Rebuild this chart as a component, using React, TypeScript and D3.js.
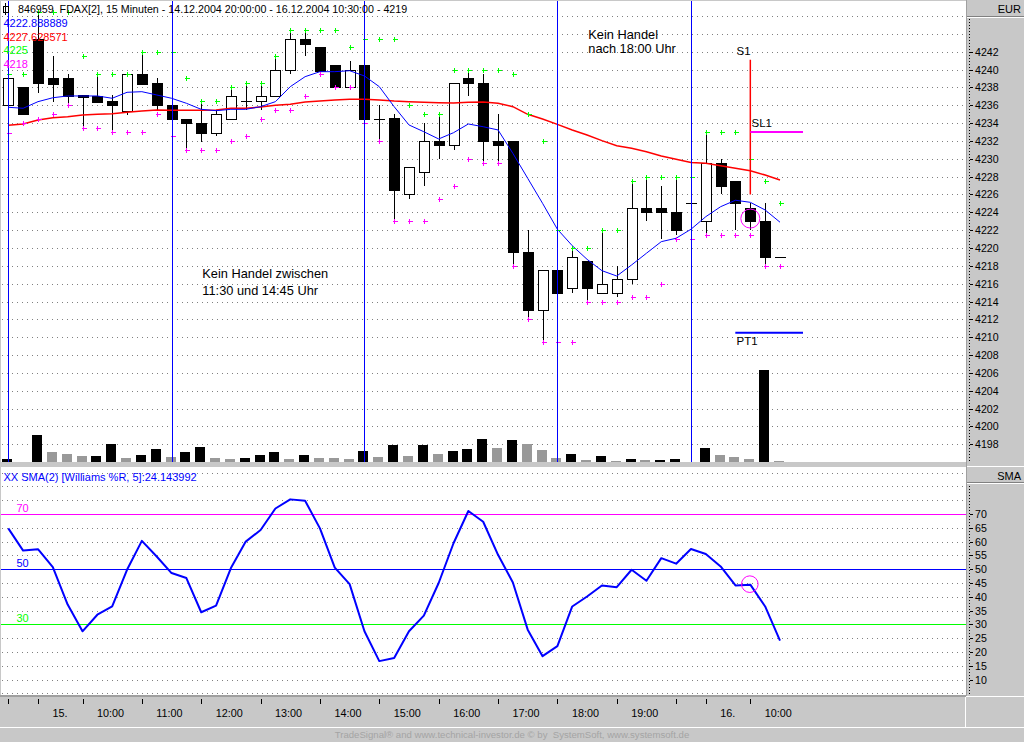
import React from "react";
import * as d3 from "d3";

// ---------- DATA ----------
const opens = [4236.0, 4238.0, 4243.4, 4239.0, 4239.0, 4237.1, 4237.0, 4236.5, 4235.4, 4239.5, 4238.5, 4236.0, 4234.5, 4234.0, 4232.9, 4234.5, 4236.5, 4236.5, 4237.0, 4240.0, 4243.4, 4242.5, 4240.5, 4238.0, 4240.5, 4234.5, 4234.6, 4226.0, 4228.5, 4232.0, 4231.5, 4239.0, 4238.5, 4232.0, 4232.0, 4219.5, 4213.0, 4217.5, 4215.5, 4218.5, 4215.0, 4215.0, 4216.5, 4224.5, 4224.5, 4224.0, 4225.0, 4223.0, 4229.5, 4227.5, 4224.5, 4223.0, 4219.0];
const highs = [4239.0, 4238.0, 4246.4, 4241.5, 4239.5, 4237.1, 4239.5, 4237.1, 4239.5, 4242.0, 4239.0, 4236.0, 4234.5, 4236.5, 4235.5, 4238.0, 4238.5, 4238.5, 4241.5, 4244.4, 4244.4, 4242.5, 4240.5, 4241.0, 4243.4, 4236.0, 4235.0, 4229.1, 4234.0, 4235.0, 4238.5, 4240.0, 4239.5, 4235.0, 4232.0, 4222.0, 4217.5, 4217.5, 4220.0, 4218.5, 4222.0, 4218.0, 4227.5, 4228.0, 4227.0, 4228.0, 4225.0, 4233.0, 4230.0, 4227.5, 4225.0, 4225.0, 4219.0];
const lows = [4234.5, 4235.0, 4237.4, 4236.4, 4236.0, 4233.5, 4236.4, 4233.1, 4234.9, 4238.4, 4235.5, 4232.5, 4231.1, 4231.9, 4232.5, 4234.5, 4235.5, 4235.5, 4237.0, 4239.5, 4241.5, 4239.8, 4238.0, 4238.0, 4234.0, 4232.0, 4223.0, 4225.5, 4227.0, 4230.0, 4231.0, 4237.0, 4229.5, 4229.5, 4218.0, 4212.0, 4209.5, 4215.0, 4215.0, 4214.0, 4215.0, 4214.5, 4216.0, 4223.0, 4221.0, 4221.5, 4225.0, 4221.5, 4226.0, 4222.0, 4222.0, 4218.0, 4219.0];
const closes = [4239.0, 4235.0, 4238.5, 4238.4, 4237.0, 4236.9, 4236.4, 4236.0, 4239.5, 4238.4, 4236.0, 4234.5, 4234.0, 4232.9, 4235.0, 4237.0, 4236.5, 4237.0, 4240.0, 4243.4, 4242.9, 4239.8, 4238.0, 4240.0, 4234.5, 4234.5, 4226.5, 4229.1, 4232.0, 4231.5, 4238.5, 4238.5, 4232.0, 4231.5, 4219.5, 4213.0, 4217.5, 4215.0, 4219.0, 4215.5, 4216.0, 4216.5, 4224.5, 4224.0, 4224.0, 4222.0, 4225.0, 4229.5, 4227.0, 4225.0, 4223.0, 4219.0, 4219.0];
const volumes = [68, 0, 668, 250, 200, 150, 155, 450, 100, 175, 325, 125, 250, 375, 100, 75, 100, 175, 250, 75, 175, 100, 98, 75, 275, 125, 425, 150, 425, 200, 275, 325, 575, 350, 542, 442, 292, 92, 192, 42, 142, 18, 68, 42, 47, 68, 0, 342, 168, 118, 68, 2292, 18];
const upperBand = [4239.5, 4239.5, 4246.4, 4246.4, 4246.4, 4241.5, 4239.5, 4239.5, 4239.5, 4242.0, 4242.0, 4242.0, 4239.0, 4236.5, 4236.5, 4238.0, 4238.5, 4238.5, 4241.5, 4244.4, 4244.4, 4244.4, 4244.4, 4242.5, 4243.4, 4243.4, 4243.4, 4236.0, 4235.0, 4235.0, 4240.0, 4240.0, 4240.0, 4240.0, 4239.5, 4235.0, 4232.0, 4222.0, 4220.0, 4220.0, 4222.0, 4222.0, 4227.5, 4228.0, 4228.0, 4228.0, 4228.0, 4233.0, 4233.0, 4233.0, 4230.0, 4227.5, 4225.0];
const lowerBand = [4232.9, 4234.0, 4234.5, 4235.0, 4236.0, 4233.5, 4233.5, 4233.0, 4233.0, 4233.0, 4235.0, 4232.5, 4231.0, 4231.0, 4231.0, 4232.0, 4232.5, 4234.5, 4235.5, 4235.5, 4237.0, 4239.5, 4238.0, 4238.0, 4234.0, 4232.0, 4223.0, 4223.0, 4223.0, 4225.5, 4227.0, 4230.0, 4229.5, 4229.5, 4218.0, 4212.0, 4209.5, 4209.5, 4209.5, 4214.0, 4214.0, 4214.0, 4214.5, 4214.5, 4216.0, 4221.0, 4221.0, 4221.5, 4221.5, 4221.5, 4221.5, 4218.0, 4218.0];
const maShort = [4235.77, 4235.66, 4236.40, 4236.84, 4237.04, 4237.04, 4237.04, 4236.78, 4237.45, 4237.52, 4237.15, 4236.78, 4236.22, 4235.54, 4235.39, 4235.54, 4235.54, 4235.84, 4236.40, 4238.08, 4239.20, 4239.76, 4239.76, 4239.87, 4239.28, 4238.08, 4235.84, 4233.79, 4233.03, 4232.22, 4232.92, 4233.90, 4233.59, 4233.23, 4230.61, 4227.81, 4225.01, 4222.10, 4220.26, 4218.73, 4217.46, 4216.86, 4218.10, 4219.41, 4220.71, 4221.09, 4222.10, 4223.51, 4224.63, 4225.35, 4225.12, 4224.26, 4222.89];
const maLong = [4233.75, 4233.90, 4234.35, 4234.60, 4234.72, 4234.91, 4234.98, 4235.05, 4235.21, 4235.35, 4235.47, 4235.43, 4235.43, 4235.43, 4235.47, 4235.66, 4235.66, 4235.80, 4235.99, 4236.11, 4236.36, 4236.47, 4236.59, 4236.67, 4236.67, 4236.59, 4236.47, 4236.40, 4236.33, 4236.28, 4236.25, 4236.33, 4236.36, 4236.22, 4235.84, 4234.98, 4234.46, 4233.86, 4233.22, 4232.66, 4232.03, 4231.47, 4231.17, 4230.79, 4230.31, 4229.94, 4229.58, 4229.49, 4229.22, 4228.93, 4228.66, 4228.18, 4227.63];
const williams = [64.8, 56.75, 57.25, 50.75, 37.2, 27.5, 33.5, 36.5, 49.8, 60.25, 54.6, 48.6, 46.8, 34.4, 36.8, 50.4, 60.0, 64.2, 72.0, 75.3, 74.8, 64.8, 50.6, 44.6, 27.5, 16.7, 17.8, 27.5, 33.2, 45.0, 59.4, 71.1, 67.2, 55.2, 45.2, 28.1, 18.5, 22.1, 36.5, 40.1, 44.1, 43.5, 49.8, 45.8, 54.0, 52.0, 57.3, 55.5, 51.0, 44.1, 44.4, 36.5, 24.14];

const sessionBreaks = [0, 11, 24, 37, 46];
const timeTicks = [0, 2, 5, 9, 13, 17, 21, 25, 29, 33, 37, 41, 45, 47, 50];
const timeLabels = ["", "15.", "10:00", "11:00", "12:00", "13:00", "14:00", "15:00", "16:00", "17:00", "18:00", "19:00", "", "16.", "10:00"];
const priceTicks = [4242, 4240, 4238, 4236, 4234, 4232, 4230, 4228, 4226, 4224, 4222, 4220, 4218, 4216, 4214, 4212, 4210, 4208, 4206, 4204, 4202, 4200, 4198];
const priceGrid = [4246, 4244, ...priceTicks];
const oscTicks = [70, 65, 60, 55, 50, 45, 40, 35, 30, 25, 20, 15, 10];
const oscGrid = [85, 80, 75, 70, 65, 60, 55, 50, 45, 40, 35, 30, 25, 20, 15, 10, 5];
const oscLevels = [70, 50, 30];
const oscLevelColors = ["#ff00ff", "#0000ff", "#00ff00"];

const title = "846959  FDAX[2], 15 Minuten - 14.12.2004 20:00:00 - 16.12.2004 10:30:00 - 4219";
const legendTexts = ["4222.888889", "4227.628571", "4225", "4218"];
const legendColors = ["#0000ff", "#ff0000", "#00ff00", "#ff00ff"];
const oscTitle = "XX SMA(2) [Williams %R, 5]:24.143992";
const footer = "TradeSignal\u00ae and www.technical-investor.de \u00a9 by  SystemSoft, www.systemsoft.de";

// signal annotations (bar index / price)
const signalBar = 50;
const s1Top = 4241.1;
const s1Bottom = 4226.0;
const stopLoss = 4233.0;
const profitTarget = 4210.5;
const circlePrice = 4223.3;

const FONT = "'Liberation Sans', Arial, sans-serif";

export default function App() {
  const x = d3.scaleLinear().domain([0, 52]).range([8.3, 780]);
  const y = d3.scaleLinear().domain([4198, 4242]).range([444.3, 51.7]);
  const yv = d3.scaleLinear().domain([0, 2500]).range([461.7, 361.7]);
  const yo = d3.scaleLinear().domain([10, 70]).range([679.6, 514]);

  const idx = d3.range(opens.length);
  const lineP = (arr: number[]) =>
    d3.line<number>().x((_, i) => x(i)).y((d) => y(d))(arr) || "";
  const oscPath = d3.line<number>().x((_, i) => x(i)).y((d) => yo(d))(williams) || "";

  const PANEL_R = 966;
  const r = (v: number) => Math.round(v);

  return (
    <svg
      width={1024}
      height={742}
      style={{ position: "absolute", left: 0, top: 0, display: "block" }}
      fontFamily={FONT}
    >
      {/* background */}
      <rect x={0} y={0} width={1024} height={742} fill="#c8c8c8" />
      <rect x={1} y={1} width={PANEL_R - 1} height={461} fill="#ffffff" />
      <rect x={1} y={467} width={PANEL_R - 1} height={228} fill="#ffffff" />

      {/* grids */}
      <g shapeRendering="crispEdges">
        {priceGrid.map((p) => (
          <line key={p} x1={2} x2={PANEL_R} y1={r(y(p)) + 0.5} y2={r(y(p)) + 0.5} stroke="#808080" strokeDasharray="1,4" />
        ))}
        {oscGrid.map((v) => (
          <line key={v} x1={2} x2={PANEL_R} y1={r(yo(v)) + 0.5} y2={r(yo(v)) + 0.5} stroke="#808080" strokeDasharray="1,4" />
        ))}
      </g>

      {/* volume */}
      <g shapeRendering="crispEdges">
        {idx.map((i) =>
          volumes[i] > 0 ? (
            <rect
              key={i}
              x={r(x(i)) - 6}
              y={yv(volumes[i])}
              width={10}
              height={yv(0) - yv(volumes[i])}
              fill={i === 0 || volumes[i] >= volumes[i - 1] ? "#000000" : "#999999"}
            />
          ) : null
        )}
      </g>

      {/* candles */}
      <g shapeRendering="crispEdges">
        {idx.map((i) => {
          const cx = r(x(i)) + 0.5;
          const o = opens[i], c = closes[i];
          const top = y(Math.max(o, c));
          const bot = y(Math.min(o, c));
          const doji = Math.abs(o - c) < 0.05;
          return (
            <g key={i}>
              <line x1={cx} x2={cx} y1={y(highs[i])} y2={y(lows[i])} stroke="#000" />
              {doji ? (
                <line x1={cx - 5.5} x2={cx + 5.5} y1={r(top) + 0.5} y2={r(top) + 0.5} stroke="#000" />
              ) : (
                <rect
                  x={cx - 5}
                  y={r(top) + 0.5}
                  width={10}
                  height={Math.max(1, r(bot) - r(top))}
                  fill={c > o ? "#ffffff" : "#000000"}
                  stroke="#000"
                />
              )}
            </g>
          );
        })}
      </g>

      {/* moving averages */}
      <path d={lineP(maLong)} fill="none" stroke="#ff0000" strokeWidth={1.5} />
      <path d={lineP(maShort)} fill="none" stroke="#0000ff" strokeWidth={1} />

      {/* band markers */}
      <g shapeRendering="crispEdges">
        {idx.map((i) => {
          const cx = r(x(i)) + 0.5;
          const gy = r(y(upperBand[i])) + 0.5;
          const my = r(y(lowerBand[i])) + 0.5;
          return (
            <g key={i}>
              <line x1={cx - 2} x2={cx + 3} y1={gy} y2={gy} stroke="#00ff00" />
              <line x1={cx} x2={cx} y1={gy - 2.5} y2={gy + 2.5} stroke="#00ff00" />
              <line x1={cx - 2} x2={cx + 3} y1={my} y2={my} stroke="#ff00ff" />
              <line x1={cx} x2={cx} y1={my - 2.5} y2={my + 2.5} stroke="#ff00ff" />
            </g>
          );
        })}
      </g>

      {/* session separators */}
      <g shapeRendering="crispEdges">
        {sessionBreaks.map((b) => (
          <line key={b} x1={r(x(b)) + 0.5} x2={r(x(b)) + 0.5} y1={1} y2={462} stroke="#0000ff" />
        ))}
      </g>

      {/* signal annotations */}
      <line x1={x(signalBar)} x2={x(signalBar)} y1={y(s1Top)} y2={y(s1Bottom)} stroke="#ff0000" strokeWidth={1.5} />
      <text x={736.5} y={55} fontSize={11.5} fill="#000">S1</text>
      <line x1={x(signalBar)} x2={803} y1={y(stopLoss)} y2={y(stopLoss)} stroke="#ff00ff" strokeWidth={2} />
      <text x={751.5} y={126.7} fontSize={11.5} fill="#000">SL1</text>
      <line x1={x(signalBar) - 15} x2={803} y1={y(profitTarget)} y2={y(profitTarget)} stroke="#0000ff" strokeWidth={2} />
      <text x={736.5} y={345} fontSize={11.5} fill="#000">PT1</text>
      <circle cx={x(signalBar)} cy={y(circlePrice)} r={9.5} fill="none" stroke="#ff00ff" strokeWidth={1} />

      {/* notes */}
      <text x={202.3} y={278.3} fontSize={12.8} fill="#000">Kein Handel zwischen</text>
      <text x={202.3} y={294.8} fontSize={12.8} fill="#000">11:30 und 14:45 Uhr</text>
      <text x={588.3} y={39.3} fontSize={12.8} fill="#000">Kein Handel</text>
      <text x={588.3} y={53.3} fontSize={12.8} fill="#000">nach 18:00 Uhr</text>

      {/* title + legend */}
      <rect x={3} y={6} width={5} height={6} fill="#fff" stroke="#000" shapeRendering="crispEdges" />
      <line x1={5.5} x2={5.5} y1={3} y2={15} stroke="#000" shapeRendering="crispEdges" />
      <text x={18} y={12.5} fontSize={10.7} fill="#000" style={{ whiteSpace: "pre" }}>{title}</text>
      {legendTexts.map((t, i) => (
        <text key={t} x={3.5} y={27 + i * 13.6} fontSize={11} fill={legendColors[i]}>{t}</text>
      ))}

      {/* oscillator panel */}
      {oscLevels.map((v, i) => (
        <g key={v}>
          <line x1={1} x2={PANEL_R} y1={r(yo(v)) + 0.5} y2={r(yo(v)) + 0.5} stroke={oscLevelColors[i]} shapeRendering="crispEdges" />
          <text x={16.5} y={r(yo(v)) - 2.5} fontSize={11} fill={oscLevelColors[i]}>{v}</text>
        </g>
      ))}
      <path d={oscPath} fill="none" stroke="#0000ff" strokeWidth={2} strokeLinejoin="round" />
      <circle cx={x(signalBar) - 0.5} cy={yo(williams[signalBar]) - 0.5} r={8.3} fill="none" stroke="#ff00ff" strokeWidth={1} />
      <text x={3.5} y={480.5} fontSize={11} fill="#0000ff">{oscTitle}</text>

      {/* panel separator band */}
      <rect x={0} y={462} width={PANEL_R} height={5} fill="#c8c8c8" />

      {/* right axes */}
      <line x1={966.5} x2={966.5} y1={0} y2={697} stroke="#a0a0a0" shapeRendering="crispEdges" />
      <rect x={967} y={1} width={57} height={15} fill="#c8c8c8" />
      <line x1={967} x2={1024} y1={16.5} y2={16.5} stroke="#808080" shapeRendering="crispEdges" />
      <line x1={967} x2={1024} y1={17.5} y2={17.5} stroke="#ffffff" shapeRendering="crispEdges" />
      <text x={1021} y={12.5} fontSize={11} textAnchor="end" fill="#000">EUR</text>
      <line x1={969.5} x2={969.5} y1={19} y2={462} stroke="#000" strokeDasharray="1,2" shapeRendering="crispEdges" />
      {priceTicks.map((p) => (
        <g key={p}>
          <line x1={970} x2={973} y1={r(y(p)) + 0.5} y2={r(y(p)) + 0.5} stroke="#000" shapeRendering="crispEdges" />
          <text x={975} y={y(p) + 4} fontSize={10.6} fill="#000">{p}</text>
        </g>
      ))}

      <line x1={967} x2={1024} y1={466.5} y2={466.5} stroke="#ffffff" shapeRendering="crispEdges" />
      <line x1={967} x2={1024} y1={482.5} y2={482.5} stroke="#808080" shapeRendering="crispEdges" />
      <line x1={967} x2={1024} y1={483.5} y2={483.5} stroke="#ffffff" shapeRendering="crispEdges" />
      <text x={1021} y={479.5} fontSize={11} textAnchor="end" fill="#000">SMA</text>
      <line x1={969.5} x2={969.5} y1={486} y2={695} stroke="#000" strokeDasharray="1,2" shapeRendering="crispEdges" />
      {oscTicks.map((v) => (
        <g key={v}>
          <line x1={970} x2={973} y1={r(yo(v)) + 0.5} y2={r(yo(v)) + 0.5} stroke="#000" shapeRendering="crispEdges" />
          <text x={975} y={yo(v) + 4} fontSize={10.6} fill="#000">{v}</text>
        </g>
      ))}

      {/* bottom time axis */}
      <line x1={0} x2={966} y1={695.5} y2={695.5} stroke="#a0a0a0" shapeRendering="crispEdges" />
      <line x1={0} x2={966} y1={696.5} y2={696.5} stroke="#a0a0a0" shapeRendering="crispEdges" />
      <line x1={966} x2={1024} y1={696.5} y2={696.5} stroke="#ffffff" shapeRendering="crispEdges" />
      <line x1={965.5} x2={965.5} y1={697} y2={728} stroke="#ffffff" shapeRendering="crispEdges" />
      <line x1={0} x2={1024} y1={727.5} y2={727.5} stroke="#ffffff" shapeRendering="crispEdges" />
      {timeTicks.map((b, i) => (
        <g key={b}>
          <line x1={r(x(b)) + 0.5} x2={r(x(b)) + 0.5} y1={699} y2={704} stroke="#000" shapeRendering="crispEdges" />
          {timeLabels[i] ? (
            <text x={x(b) + 14.5} y={716.5} fontSize={10.8} fill="#000">{timeLabels[i]}</text>
          ) : null}
        </g>
      ))}
      <text x={512} y={738} fontSize={9.6} textAnchor="middle" fill="#a4a4a4" style={{ whiteSpace: "pre" }}>{footer}</text>
    </svg>
  );
}
